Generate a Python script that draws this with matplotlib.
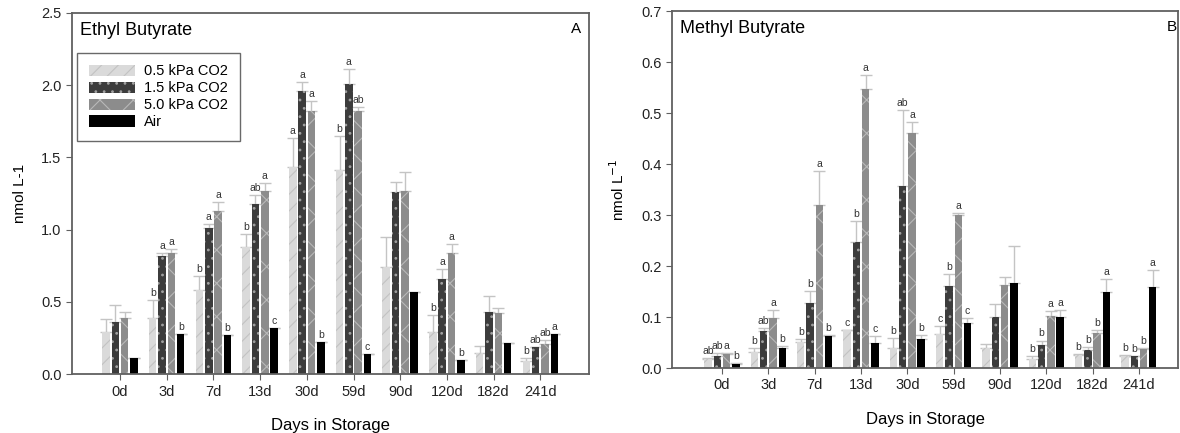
import numpy as np
import matplotlib
matplotlib.use("Agg")
import matplotlib.pyplot as plt
from matplotlib.patches import Patch

plt.rcParams['font.family'] = ['Liberation Sans', 'DejaVu Sans']
plt.rcParams['hatch.linewidth'] = 0.8

days = ['0d', '3d', '7d', '13d', '30d', '59d', '90d', '120d', '182d', '241d']
series = ['0.5 kPa CO2', '1.5 kPa CO2', '5.0 kPa CO2', 'Air']

# Ethyl butyrate (panel A) - means and standard errors
ethyl_05 = [0.29, 0.39, 0.58, 0.88, 1.435, 1.41, 0.74, 0.29, 0.143, 0.092]
ethyl_15 = [0.36, 0.82, 1.01, 1.18, 1.96, 2.01, 1.26, 0.66, 0.43, 0.185]
ethyl_50 = [0.39, 0.835, 1.13, 1.27, 1.82, 1.82, 1.27, 0.835, 0.42, 0.21]
ethyl_air = [0.11, 0.28, 0.27, 0.32, 0.22, 0.14, 0.57, 0.097, 0.215, 0.277]
ethyl_err_05 = [0.09, 0.12, 0.10, 0.09, 0.20, 0.24, 0.21, 0.12, 0.053, 0.02]
ethyl_err_15 = [0.12, 0.015, 0.03, 0.06, 0.06, 0.10, 0.07, 0.07, 0.11, 0.0]
ethyl_err_50 = [0.04, 0.03, 0.06, 0.05, 0.07, 0.03, 0.13, 0.065, 0.04, 0.025]
ethyl_err_air = [0, 0, 0, 0, 0, 0, 0, 0, 0, 0]
ethyl_let_05 = ['', 'b', 'b', 'b', 'a', 'b', '', 'b', '', 'b']
ethyl_let_15 = ['', 'a', 'a', 'ab', 'a', 'a', '', 'a', '', 'ab']
ethyl_let_50 = ['', 'a', 'a', 'a', 'a', 'ab', '', 'a', '', 'ab']
ethyl_let_air = ['', 'b', 'b', 'c', 'b', 'c', '', 'b', '', 'a']

# Methyl butyrate (panel B)
methyl_05 = [0.018, 0.031, 0.051, 0.075, 0.039, 0.067, 0.040, 0.018, 0.025, 0.023]
methyl_15 = [0.023, 0.073, 0.127, 0.247, 0.358, 0.161, 0.100, 0.046, 0.035, 0.024]
methyl_50 = [0.027, 0.099, 0.320, 0.548, 0.462, 0.300, 0.162, 0.103, 0.069, 0.037]
methyl_air = [0.0085, 0.040, 0.063, 0.049, 0.057, 0.089, 0.167, 0.100, 0.149, 0.159]
methyl_err_05 = [0.002, 0.008, 0.006, 0.0, 0.02, 0.015, 0.008, 0.005, 0.003, 0.002]
methyl_err_15 = [0.006, 0.006, 0.024, 0.041, 0.149, 0.024, 0.025, 0.008, 0.006, 0.0]
methyl_err_50 = [0.002, 0.015, 0.066, 0.027, 0.02, 0.005, 0.016, 0.009, 0.006, 0.003]
methyl_err_air = [0.0015, 0.003, 0.002, 0.013, 0.008, 0.01, 0.072, 0.013, 0.025, 0.034]
methyl_let_05 = ['ab', 'b', 'b', 'c', 'b', 'c', '', 'b', 'b', 'b']
methyl_let_15 = ['ab', 'ab', 'b', 'b', 'ab', 'b', '', 'b', 'b', 'b']
methyl_let_50 = ['a', 'a', 'a', 'a', 'a', 'a', '', 'a', 'b', 'b']
methyl_let_air = ['b', 'b', 'b', 'c', 'b', 'c', '', 'a', 'a', 'a']

styles = [
    dict(facecolor='#dadada', edgecolor='#c2c2c2', hatch='//'),
    dict(facecolor='#3c3c3c', edgecolor='#a0a0a0', hatch='..'),
    dict(facecolor='#8c8c8c', edgecolor='#b8b8b8', hatch='x'),
    dict(facecolor='#000000', edgecolor='#000000', hatch=None),
]
offsets = [-0.3, -0.1, 0.1, 0.3]
width = 0.16
spine_col = '#606060'


def draw_panel(ax, means, errs, letters, ymax, yticks, fmt):
    x = np.arange(len(days))
    for i in range(4):
        xi = x + offsets[i]
        ax.errorbar(xi, means[i], yerr=[np.zeros(len(days)), errs[i]], fmt='none',
                    ecolor='#c4c4c4', elinewidth=1.0, capsize=4, capthick=1.0, zorder=1)
        ax.bar(xi, means[i], width, linewidth=0, zorder=2, **styles[i])
        for j in range(len(days)):
            if letters[i][j]:
                ax.annotate(letters[i][j], (xi[j], means[i][j] + errs[i][j]),
                            xytext=(0, 1.5), textcoords='offset points',
                            ha='center', va='bottom', fontsize=7.5, color='#333333')
    ax.set_xticks(x)
    ax.set_xticklabels(days, fontsize=10.5)
    ax.set_ylim(0, ymax)
    ax.set_yticks(yticks)
    ax.set_yticklabels([fmt % v for v in yticks], fontsize=10.5)
    for s in ax.spines.values():
        s.set_color(spine_col)
        s.set_linewidth(1.3)
    ax.tick_params(direction='out', length=4, color=spine_col, labelcolor='#222222')
    ax.set_xlabel('Days in Storage', fontsize=12, labelpad=14)


fig = plt.figure(figsize=(11.8, 4.33), dpi=100)
axA = fig.add_axes([0.061, 0.136, 0.438, 0.834])
axB = fig.add_axes([0.5695, 0.150, 0.429, 0.824])

draw_panel(axA, [ethyl_05, ethyl_15, ethyl_50, ethyl_air],
           [ethyl_err_05, ethyl_err_15, ethyl_err_50, ethyl_err_air],
           [ethyl_let_05, ethyl_let_15, ethyl_let_50, ethyl_let_air],
           2.5, [0.0, 0.5, 1.0, 1.5, 2.0, 2.5], '%.1f')
axA.set_xlim(-1.03, 10.04)
axA.set_ylabel('nmol L-1', fontsize=11, labelpad=10)
axA.text(0.015, 0.975, 'Ethyl Butyrate', transform=axA.transAxes, fontsize=13,
         ha='left', va='top')
axA.text(0.986, 0.975, 'A', transform=axA.transAxes, fontsize=11, ha='right', va='top')
handles = [Patch(label=series[i], linewidth=0, **styles[i]) for i in range(4)]
leg = axA.legend(handles=handles, loc='upper left', bbox_to_anchor=(0.01, 0.89),
                 borderaxespad=0, fancybox=False, fontsize=10.5, handlelength=3.2,
                 handleheight=0.8, labelspacing=0.2, borderpad=0.8, handletextpad=0.6)
leg.get_frame().set_edgecolor('#444444')
leg.get_frame().set_linewidth(1.0)

draw_panel(axB, [methyl_05, methyl_15, methyl_50, methyl_air],
           [methyl_err_05, methyl_err_15, methyl_err_50, methyl_err_air],
           [methyl_let_05, methyl_let_15, methyl_let_50, methyl_let_air],
           0.7, [0.0, 0.1, 0.2, 0.3, 0.4, 0.5, 0.6, 0.7], '%.1f')
axB.set_xlim(-1.08, 9.85)
axB.set_ylabel('nmol L$^{-1}$', fontsize=11, labelpad=10)
axB.text(0.016, 0.975, 'Methyl Butyrate', transform=axB.transAxes, fontsize=13,
         ha='left', va='top')
axB.text(0.978, 0.975, 'B', transform=axB.transAxes, fontsize=11, ha='left', va='top')

fig.savefig('out.png', dpi=100)
